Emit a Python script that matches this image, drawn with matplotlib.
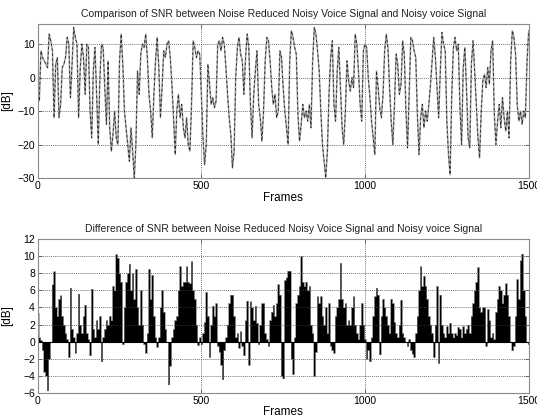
import numpy as np
import matplotlib
matplotlib.use("Agg")
import matplotlib.pyplot as plt

plt.rcParams["font.family"] = ["Liberation Sans", "DejaVu Sans"]

# frame index of every sample (one reading every 5 frames)
frames = np.arange(0, 1501, 5)

# SNR [dB]; the two traces lie on top of each other
# at this resolution, so the same reading serves both
snr_upper = [
    -3, -7, 8, 6, 5, 4, 3, 13, 11, 8, -12,
    4, 6, -12, -8, 3, 4, 6, 12, 10, -6,
    4, 15, 12, 10, -12, 3, 10, 6, -5, 10,
    9, -10, -18, 2, 9, -5, -20, 0, 10, 9,
    -3, -14, 5, -15, -22, -17, -10, -18, -20, 5,
    13, 4, -10, -15, -20, -25, -15, -22, -30, -20,
    2, -5, 7, 10, 9, 13, 6, -5, -10, -18,
    -5, 5, 12, 3, -12, -3, 8, 6, 10, 11,
    6, -2, -12, -23, -10, -5, -12, -8, -15, -18,
    -12, -20, -22, -8, 11, 9, 6, 8, 7, -5,
    -18, -26, -20, 4, -2, -8, -6, -9, -7, 10,
    11, 8, 12, 10, 3, -5, -12, -17, -27, -22,
    0, 9, 12, 7, 5, -5, 6, 13, 9, -8,
    -18, -5, 2, 8, -8, -12, -19, -10, 5, 12,
    11, 5, -3, -8, -5, -12, -10, 8, 6, -3,
    -10, -15, -20, 5, 14, 12, 9, 7, -11, -19,
    -14, -8, -12, -10, -13, -8, -15, 5, 15, 13,
    8, 2, -10, -20, -25, -30, -22, -5, 6, 11,
    -8, -13, 2, 9, -3, -15, -20, -10, 5, -1,
    -4, 0, -3, 13, 10, 2, -8, -13, 8, 10,
    9, 0, -6, -13, -18, -23, 2, -3, -9, -12,
    -5, 8, 13, 9, -3, -13, -20, -8, 7, 4,
    -5, -2, 11, 7, -10, -21, -5, 12, 11, 8,
    6, -11, -23, -12, -8, -15, -10, -13, -8, -2,
    5, 12, 6, -3, -12, 2, 13.5, 10, 8, -13,
    -23, -29, -5, 9, 12, 8, 10, -9, -20, 3,
    9, -3, -18, -21, 4, 11, 2, -8, -18, -24,
    -10, -1, 1, -3, 3, -2, 8, 11, -11, -20,
    -13, -8, -15, -6, -12, -16, -10, -18, 5, 14,
    12, 7, -8, -13, -10, -14, -10, -12, 5, 14,
]
snr_reduced = snr_upper
snr_noisy = snr_upper

# SNR difference (noise reduced minus noisy) [dB]
snr_diff = [
    3.3, 0.5, 0.2, -1, -3.5, -4, -5.7, -2, 0, 6.7,
    8.2, 4, 3, 5, 5.4, 3, 2, 1, 0.3, -1.8,
    6.3, 1.5, 0.5, -1.3, 1, 5.6, 2, 1, 3, 4.3,
    1, 0.3, -1.6, 6.2, 1.5, 0.5, 2.5, 1.5, 3, -2.3,
    0.5, 1.5, 2.5, 2, 3, 2.5, 6.5, 6, 10.2, 9.8,
    8, 7, -0.3, 4, 7, 8, 9.1, 6, 8, 5,
    8.5, 4, 2, 6, 2, -0.3, -1.3, 1, 8.5, 5,
    7.8, 3, 0.5, -0.6, 0.5, 4, 6, 3.5, 1.5, 0,
    -5, -2.8, 0.5, 1.5, 2.5, 3, 6, 8.8, 6.5, 7,
    7, 8.8, 7, 6.8, 9.4, 6, 5, 2, -0.4, 0.5,
    -0.3, 1, 2.3, 5.8, 3, -1.8, 2, 4.2, 3, 4.5,
    -0.5, -1.2, -2.7, -4.4, -1, 0.5, 2, 4.5, 5.5, 5.5,
    3, 0.5, 1, -0.7, 1.2, -0.5, -1.6, 2.5, 4.8, -2.7,
    4.7, 4, 2.5, 4.2, 2.2, -0.3, 2, 4.5, 4.5, 1,
    0.3, -0.5, 2.5, 3.5, 4.3, 3, 4.5, 6.7, 5.5, -4,
    -4.3, 7.2, 7.5, 8.3, 8.3, -2, -3.8, 0.5, 4.5, 5.5,
    6.5, 10, 7, 6.5, 7, 6, 6.5, 2, 1, -4,
    -1.2, 5.3, 4.5, 5.3, 3, 2, 4, 1, 4.5, -0.5,
    -1, -1.3, 3, 4, 5, 9.2, 5, 4, 4.5, 2,
    2.5, 2, 4, 5.3, 2, 1, 0.3, 2, 4.5, 2,
    0.3, -2, -1, -2.3, 0.5, 3, 5.3, 6.3, 5.5, -1.5,
    3, 5, 4, 3, 2, 1, 5, 4.5, 2.3, 1,
    0.5, 2, 4.9, 1, 0.5, 0, -0.5, 0.3, -1, -1.4,
    -1.8, 1, 3, 6, 8.8, 6.5, 7.7, 6.5, 5, 3,
    2, 1, -1.8, 2, 6.5, -2.5, 5.5, 2, 1, 0.5,
    1.8, 1, 2.2, 1, 0.5, 1, 0.8, 1.7, 1.5, 0.5,
    1.8, 1, 1.5, 2, 1, 3, 4.5, 6, 7, 8.7,
    4, 3.5, 4, 4, -0.5, 3.8, 2.5, 0.5, 1, 0.3,
    3.5, 5, 6.5, 6, 4.5, 5.5, 6.8, 5.5, 3, 0,
    -1, -0.5, 3, 7.3, 5, 9.5, 10.3, 6, 3, 0,
    -0.3,
]
snr_diff = np.array(snr_diff, dtype=float)

x_ticks = [0, 500, 1000, 1500]
top_yticks = [-30, -20, -10, 0, 10]
bot_yticks = list(range(-6, 13, 2))

fig = plt.figure(figsize=(5.37, 4.17), dpi=100)
ax1 = fig.add_axes([0.0702, 0.5731, 0.9143, 0.3693])
ax2 = fig.add_axes([0.0702, 0.0576, 0.9143, 0.3693])


def matlab_style(ax):
    for s in ax.spines.values():
        s.set_color("#8a8a8a")
        s.set_linewidth(0.8)
    ax.tick_params(direction="in", length=3, width=0.6, color="#555555",
                   labelsize=7.5, pad=2, top=True, right=True,
                   labeltop=False, labelright=False)
    ax.grid(True, linestyle=(0, (1.5, 1.5)), color="#444444", linewidth=0.5)
    ax.set_xlim(0, 1500)
    ax.set_xticks(x_ticks)
    ax.yaxis.set_label_coords(-0.05, 0.5)


ax1.plot(frames, snr_reduced, color="#a0a0a0", lw=1.1)
ax1.plot(frames, snr_noisy, color="#222222", lw=0.6, ls=(0, (3, 3)))
ax1.set_ylim(-30, 16)
ax1.set_yticks(top_yticks)
matlab_style(ax1)
ax1.set_title("Comparison of SNR between Noise Reduced Noisy Voice Signal and Noisy voice Signal",
              fontsize=7.5, pad=5, color="#222222")
ax1.set_xlabel("Frames", fontsize=8.5, labelpad=1)
ax1.set_ylabel("[dB]", fontsize=8.5)

ax2.fill_between(frames, snr_diff, 0, step="mid", color="black", lw=0)
ax2.step(frames, snr_diff, where="mid", color="#777777", lw=0.4)
ax2.axhline(0, color="black", lw=0.8)
ax2.set_ylim(-6, 12)
ax2.set_yticks(bot_yticks)
matlab_style(ax2)
ax2.set_title("Difference of SNR between Noise Reduced Noisy Voice Signal and Noisy voice Signal",
              fontsize=7.5, pad=5, color="#222222")
ax2.set_xlabel("Frames", fontsize=8.5, labelpad=0)
ax2.set_ylabel("[dB]", fontsize=8.5)

fig.savefig("out.png", dpi=100)
